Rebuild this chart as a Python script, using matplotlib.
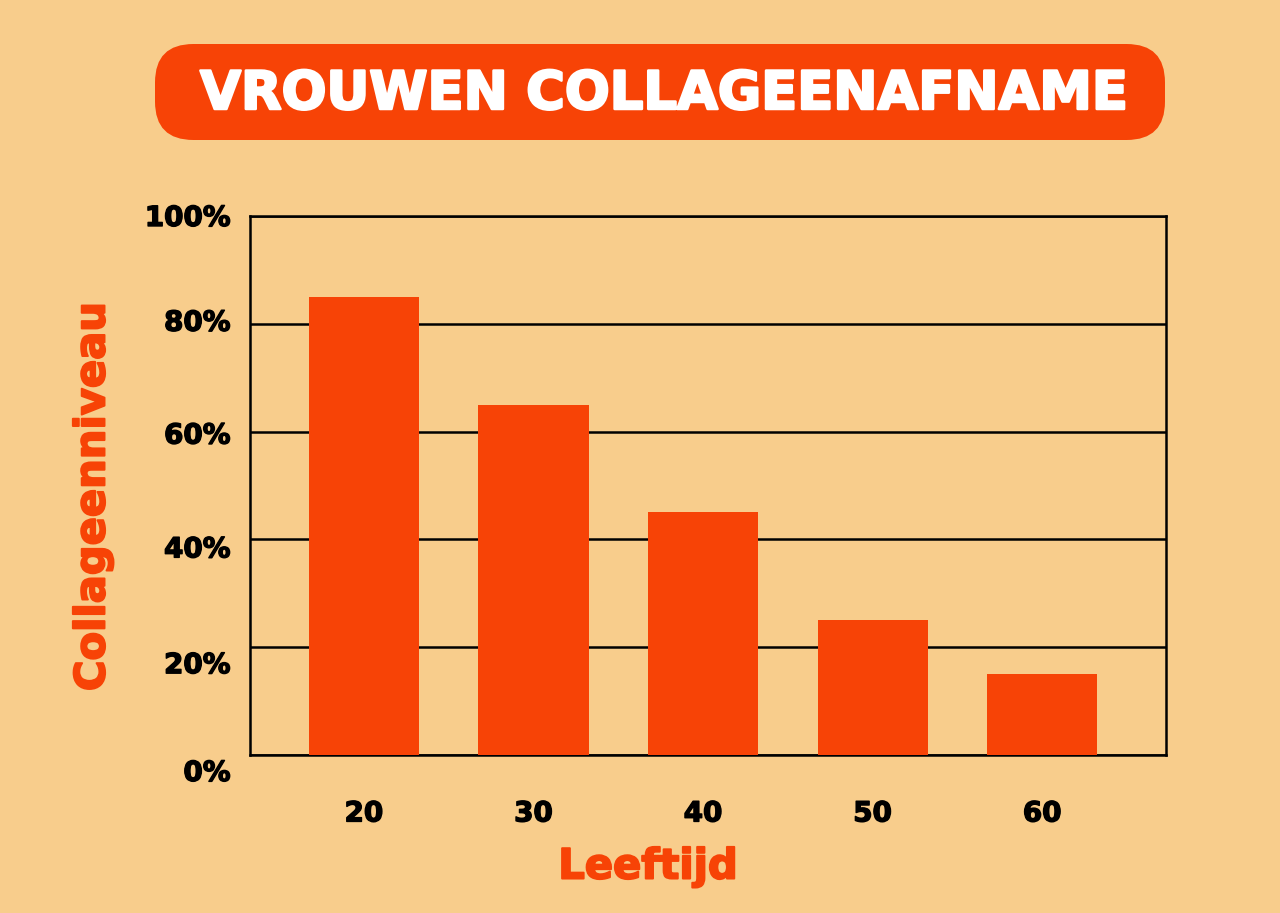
import matplotlib.pyplot as plt
import matplotlib.patheffects as pe
from matplotlib.patches import FancyBboxPatch
from matplotlib.ticker import FuncFormatter
from matplotlib.transforms import ScaledTranslation

# Data
ages = ['20', '30', '40', '50', '60']
collagen = [85, 65, 45, 25, 15]
y_ticks = [0, 20, 40, 60, 80, 100]

bg = '#F8CD8C'
orange = '#F74306'

plt.rcParams['font.family'] = ['DejaVu Sans']


def heavy(color, w=1.2):
    # thicken the bold glyphs a little
    return [pe.withStroke(linewidth=w, foreground=color)]


fig = plt.figure(figsize=(12.8, 9.13), dpi=100, facecolor=bg)
ax = fig.add_axes([250 / 1280, 1 - 755 / 913, (1166 - 250) / 1280, (755 - 216) / 913])
ax.set_facecolor(bg)

x = range(len(ages))
ax.bar(x, collagen, width=0.65, color=orange, zorder=3)

ax.set_xlim(-0.672, 4.73)
ax.set_ylim(0, 100)
ax.set_yticks(y_ticks)
ax.yaxis.set_major_formatter(FuncFormatter(lambda v, p: f'{int(v)}%'))
ax.set_xticks(list(x))
ax.set_xticklabels(ages)
ax.grid(axis='y', color='black', linewidth=1.8, zorder=1)
for s in ax.spines.values():
    s.set_linewidth(1.8)
    s.set_color('black')
ax.tick_params(length=0, labelsize=20, pad=14)
ax.tick_params(axis='x', pad=32)
for lab in ax.get_xticklabels() + ax.get_yticklabels():
    lab.set_fontweight('bold')
    lab.set_path_effects(heavy('black', 1.0))

# the y labels drift a little below their gridlines in the original
shifts = [15, 15, 7, 1, -4, -1]
for lab, d in zip(ax.get_yticklabels(), shifts):
    lab.set_transform(lab.get_transform() + ScaledTranslation(0, -d / 100, fig.dpi_scale_trans))

ax.set_ylabel('Collageenniveau', color=orange, fontsize=30, fontweight='bold',
              path_effects=heavy(orange, 1.4))
ax.yaxis.set_label_coords(-0.149, 0.479)
ax.set_xlabel('Leeftijd', color=orange, fontsize=30, fontweight='bold',
              path_effects=heavy(orange, 1.4))
ax.xaxis.set_label_coords(0.4345, -0.168)

# Title box
box = FancyBboxPatch((155 / 1280, 1 - 140 / 913), (1165 - 155) / 1280, (140 - 44) / 913,
                     boxstyle='round,pad=0,rounding_size=0.03', transform=fig.transFigure,
                     facecolor=orange, edgecolor='none', mutation_aspect=1280 / 913)
fig.patches.append(box)
fig.text(664 / 1280, 1 - 94 / 913, 'VROUWEN COLLAGEENAFNAME', color='white',
         fontsize=38, fontweight='bold', ha='center', va='center',
         path_effects=heavy('white', 1.8))

fig.savefig('out.png', dpi=100, facecolor=bg)
